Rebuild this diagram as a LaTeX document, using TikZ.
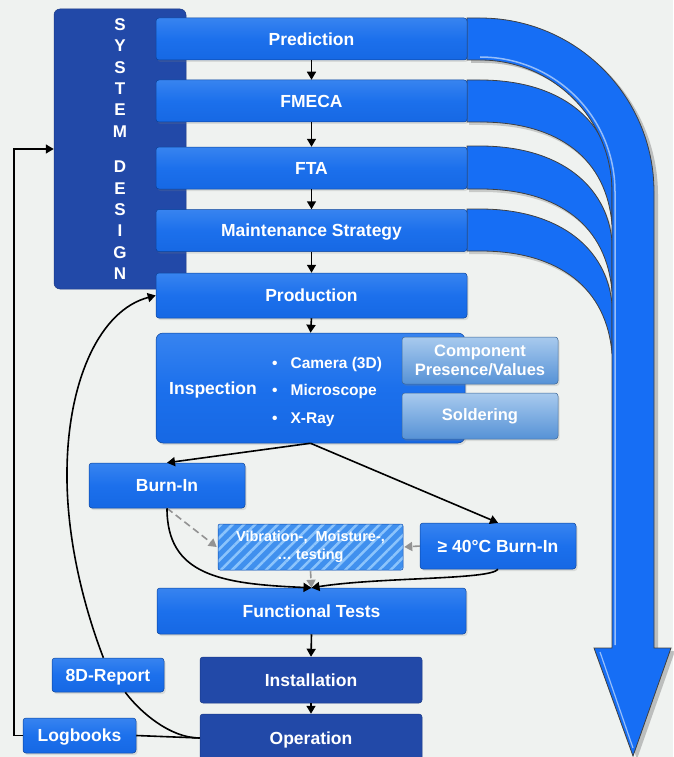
\documentclass[tikz,border=0pt]{standalone}
\usepackage{fontspec}
\setmainfont{Liberation Sans}
\usetikzlibrary{arrows.meta}
\usetikzlibrary{patterns.meta}
\usetikzlibrary{shadows}

\definecolor{fond}{RGB}{239,242,240}
\definecolor{bleuhaut}{RGB}{128,184,250}
\definecolor{bleumil}{RGB}{28,112,236}
\definecolor{bleubas}{RGB}{16,96,220}
\definecolor{bleufonce}{RGB}{34,73,168}
\definecolor{acierhaut}{RGB}{168,202,238}
\definecolor{acierbas}{RGB}{86,146,214}
\definecolor{fleuve}{RGB}{22,110,245}
\definecolor{hachfond}{RGB}{64,144,238}
\definecolor{hachtrait}{RGB}{140,196,252}

\pgfdeclareverticalshading{bouton}{100bp}{color(0bp)=(bleubas); color(50bp)=(bleumil);
  color(82bp)=(bleumil!65!bleuhaut); color(100bp)=(bleuhaut)}

\tikzstyle{texte}     =[text=white, font=\bfseries\fontsize{17.5}{20}\selectfont, inner sep=0pt]
\tikzstyle{unelig}    =[text height=12.5pt, text depth=0pt]
\tikzstyle{boite}     =[texte, unelig, rectangle, rounded corners=3pt, draw=bleubas!70!black, line width=0.5pt,
                        shade, shading=bouton,
                        drop shadow={shadow xshift=1.5pt, shadow yshift=-2pt, opacity=0.2}]
\tikzstyle{boitefonce}=[texte, unelig, rectangle, rounded corners=3pt, draw=bleufonce!80!black, line width=0.5pt, fill=bleufonce]
\tikzstyle{boiteclaire}=[texte, rectangle, rounded corners=3pt, draw=acierbas!70!black, line width=0.5pt,
                        top color=acierhaut, bottom color=acierbas, align=center,
                        font=\bfseries\fontsize{16.5}{19}\selectfont,
                        drop shadow={shadow xshift=1.5pt, shadow yshift=-2pt, opacity=0.2}]
\tikzstyle{hachure}   =[texte, rectangle, rounded corners=2pt, draw=bleubas!80!black, line width=0.5pt,
                        preaction={fill=hachfond}, pattern={Lines[angle=45,distance=8pt,line width=2.5pt]},
                        pattern color=hachtrait, align=center, font=\bfseries\fontsize{14.5}{18}\selectfont]
\tikzstyle{trait}     =[line width=1.6pt, black]
\tikzstyle{fleche}    =[trait, -{Triangle[length=8pt,width=9pt]}]
\tikzstyle{tiret}     =[line width=1.6pt, gray!85, dash pattern=on 7pt off 4pt, -{Triangle[length=8pt,width=9pt]}]

\begin{document}
\begin{tikzpicture}[x=1pt,y=-1pt]

\useasboundingbox[fill=fond] (0,0) rectangle (673,757);

%%%%%%%%%%%%%%%%%%%%%%%%
%la grande fleche a droite
%%%%%%%%%%%%%%%%%%%%%%%%

\def\bande#1#2{%
\path[fill=fleuve, draw=black!75, line width=0.8pt,
      drop shadow={shadow xshift=2pt, shadow yshift=-3pt, opacity=0.35}]
  (467,#1) -- (480,#1) .. controls (560,#1) and (607,#1+40) .. (612,#1+95)
  -- (612,#2+103) .. controls (607,#2+38) and (560,#2) .. (480,#2) -- (467,#2) -- cycle;}

\bande{80}{122}   %FMECA
\bande{146}{189}  %FTA
\bande{209}{251}  %Maintenance

%bande du haut, tige et pointe
\path[fill=fleuve, draw=black!75, line width=0.8pt,
      drop shadow={shadow xshift=4pt, shadow yshift=-3pt, opacity=0.45}]
  (467,18) -- (480,18) .. controls (576,18) and (654,96) .. (654,192)
  -- (654,648) -- (671,648) -- (633,756) -- (594,648) -- (612,648)
  -- (612,192) .. controls (612,119) and (553,60) .. (480,60) -- (467,60) -- cycle;
\draw[fleuve!45!white, line width=1.5pt] (480,57) .. controls (555,57) and (615,117) .. (615,192) -- (615,645);
\draw[fleuve!45!white, line width=1.2pt] (600,652) -- (633,748);

%%%%%%%%%%%%%%%%%%%%%%%%
%les boites
%%%%%%%%%%%%%%%%%%%%%%%%

\node[texte, rectangle, fill=bleufonce, draw=bleufonce!80!black, line width=0.5pt,
      minimum width=132pt, minimum height=280pt, rounded corners=6pt, align=center,
      font=\bfseries\fontsize{17}{21.4}\selectfont] (sysd) at (120,149)
  {S\\Y\\S\\T\\E\\M\\[14pt]D\\E\\S\\I\\G\\N};

\node[boite, minimum width=311pt, minimum height=42pt] (pred)  at (311.5,39)  {Prediction};
\node[boite, minimum width=311pt, minimum height=42pt] (fmeca) at (311.5,101) {FMECA};
\node[boite, minimum width=311pt, minimum height=42pt] (fta)   at (311.5,168) {FTA};
\node[boite, minimum width=311pt, minimum height=42pt] (maint) at (311.5,230.5) {Maintenance Strategy};
\node[boite, minimum width=311pt, minimum height=45pt] (prod)  at (311.5,295.5) {Production};

%inspection
\node[boite, minimum width=309pt, minimum height=110pt, rounded corners=7pt] (insp) at (310.5,388) {};
\node[texte] (inspt) at (213,390) {Inspection};
\node[texte, anchor=west, align=left, font=\bfseries\fontsize{15.5}{27.5}\selectfont] (inspl) at (272,391.5)
  {\textbullet\hspace{13pt}Camera (3D)\\ \textbullet\hspace{13pt}Microscope\\ \textbullet\hspace{13pt}X-Ray};
\node[boiteclaire, minimum width=156pt, minimum height=47pt] (comp) at (480,360.5) {Component\\Presence/Values};
\node[boiteclaire, minimum width=156pt, minimum height=46pt] (sold) at (480,416) {Soldering};

%burn-in et essais
\node[boite, minimum width=156pt, minimum height=45pt] (burn) at (167,485.5) {Burn-In};
\node[hachure, minimum width=185pt, minimum height=46pt] (vib) at (310.5,547) {Vibration-,~~Moisture-,\\… testing};
\node[boite, minimum width=156pt, minimum height=46pt] (hot) at (498,546) {≥ 40°C Burn-In};
\node[boite, minimum width=309pt, minimum height=46pt] (func) at (311.5,611) {Functional Tests};

%terrain
\node[boitefonce, minimum width=222pt, minimum height=46pt] (inst) at (311,680) {Installation};
\node[boitefonce, minimum width=222pt, minimum height=48pt] (oper) at (311,738) {Operation};
\node[boite, minimum width=112pt, minimum height=34pt] (rep) at (108,675) {8D-Report};
\node[boite, minimum width=113pt, minimum height=35pt] (log) at (79.5,735.5) {Logbooks};

%%%%%%%%%%%%%%%%%%%%%%%%
%les fleches
%%%%%%%%%%%%%%%%%%%%%%%%

\draw[fleche] (pred.south) -- (fmeca.north);
\draw[fleche] (fmeca.south) -- (fta.north);
\draw[fleche] (fta.south) -- (maint.north);
\draw[fleche] (maint.south) -- (prod.north);
\draw[fleche] (prod.south) -- (insp.north);

\draw[fleche] (insp.south) -- (burn.north);
\draw[fleche] (insp.south) -- (hot.north);
\draw[tiret] (burn.south) -- (vib.west);
\draw[tiret] (hot.west) -- (vib.east);
\draw[tiret] (vib.south) -- (func.north);
\draw[fleche] (burn.south) .. controls (167,575) and (220,584) .. (func.north);
\draw[fleche] (hot.south) .. controls (490,580) and (380,577) .. (func.north);

\draw[fleche] (func.south) -- (inst.north);
\draw[fleche] (inst.south) -- (oper.north);

%retours
\draw[trait] (oper.west) -- (log.east);
\draw[fleche] (log.west) -- ++(-9,0) |- (sysd.west);
\draw[trait] (oper.west) .. controls (170,738) and (140,712) .. (rep.315);
\draw[fleche] (rep.105) .. controls (85,610) and (66,540) .. (67,470) .. controls (68,380) and (100,310) .. (prod.west);

\end{tikzpicture}
\end{document}
